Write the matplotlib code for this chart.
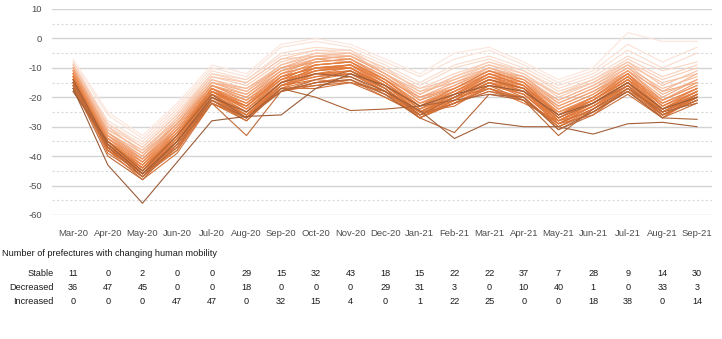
import matplotlib
matplotlib.use("Agg")
import matplotlib.pyplot as plt
from matplotlib.colors import LinearSegmentedColormap
from matplotlib.transforms import blended_transform_factory

plt.rcParams['font.family'] = ['Liberation Sans', 'DejaVu Sans']
plt.rcParams['axes.unicode_minus'] = False

months = ['Mar-20', 'Apr-20', 'May-20', 'Jun-20', 'Jul-20', 'Aug-20', 'Sep-20',
          'Oct-20', 'Nov-20', 'Dec-20', 'Jan-21', 'Feb-21', 'Mar-21', 'Apr-21',
          'May-21', 'Jun-21', 'Jul-21', 'Aug-21', 'Sep-21']

# mobility change (%) per prefecture, ordered from smallest drop to largest
prefectures = [
    [-7, -25, -33, -22, -9, -12, -2, 0, -2, -7, -12, -5, -3, -8, -14, -10, 2, -1, -1],
    [-8, -26, -34, -23, -10, -13, -3, -1, -3, -8, -13, -7, -4, -9, -15, -11, -2, -8, -3],
    [-9, -28, -35, -24, -11, -14, -5, -3, -4, -9, -15, -9, -6, -10, -16, -12, -4, -10, -5],
    [-8, -29, -36, -25, -12, -14, -6, -4, -5, -10, -16, -10, -7, -11, -17, -13, -6, -11, -8],
    [-9, -29, -37, -26, -12, -15, -7, -4, -4, -11, -17, -12, -8, -11, -18, -14, -7, -13, -9],
    [-10, -30, -37, -26, -13, -16, -8, -5, -5, -10, -18, -13, -8, -12, -19, -14, -8, -14, -10],
    [-10, -31, -38, -27, -13, -15, -7, -6, -6, -11, -17, -14, -9, -12, -20, -15, -9, -15, -12],
    [-9, -30, -39, -27, -14, -17, -9, -5, -6, -12, -19, -13, -9, -13, -19, -15, -8, -16, -11],
    [-11, -31, -38, -28, -14, -18, -9, -6, -5, -12, -18, -15, -10, -13, -21, -16, -10, -17, -13],
    [-10, -32, -40, -28, -15, -17, -10, -7, -6, -12, -19, -14, -10, -14, -21, -16, -9, -18, -12],
    [-11, -32, -39, -29, -15, -18, -10, -6, -7, -13, -20, -16, -10, -14, -22, -17, -10, -19, -14],
    [-12, -33, -40, -29, -15, -19, -11, -7, -6, -12, -20, -15, -11, -13, -22, -17, -11, -18, -15],
    [-10, -32, -41, -30, -16, -19, -10, -8, -7, -13, -21, -16, -11, -14, -23, -18, -11, -20, -14],
    [-11, -33, -41, -29, -16, -20, -12, -7, -8, -14, -20, -17, -12, -15, -23, -18, -12, -21, -16],
    [-12, -33, -42, -30, -16, -20, -11, -8, -7, -13, -21, -17, -11, -15, -24, -19, -11, -21, -15],
    [-11, -34, -41, -31, -17, -21, -12, -9, -8, -14, -22, -18, -12, -14, -24, -19, -12, -22, -17],
    [-12, -34, -42, -31, -16, -21, -13, -8, -7, -14, -22, -17, -12, -16, -25, -20, -13, -21, -16],
    [-13, -34, -43, -31, -17, -22, -12, -9, -8, -15, -23, -18, -13, -15, -25, -20, -12, -22, -17],
    [-12, -35, -42, -32, -17, -22, -13, -10, -9, -14, -22, -19, -12, -16, -26, -20, -13, -23, -18],
    [-13, -35, -43, -32, -18, -22, -14, -9, -8, -15, -23, -18, -13, -17, -25, -21, -14, -22, -17],
    [-12, -35, -44, -32, -17, -23, -13, -10, -9, -16, -23, -19, -14, -16, -26, -21, -13, -23, -18],
    [-14, -36, -43, -33, -18, -23, -14, -11, -9, -15, -24, -19, -13, -17, -27, -21, -14, -24, -19],
    [-13, -36, -44, -33, -18, -24, -15, -10, -10, -16, -24, -20, -14, -17, -27, -22, -15, -24, -18],
    [-14, -36, -45, -33, -19, -23, -14, -11, -9, -16, -25, -19, -14, -18, -27, -22, -14, -25, -19],
    [-13, -37, -44, -34, -18, -24, -15, -12, -10, -17, -25, -20, -15, -17, -28, -22, -15, -24, -20],
    [-15, -37, -45, -34, -19, -25, -16, -11, -10, -16, -25, -21, -15, -18, -28, -23, -16, -25, -19],
    [-14, -36, -45, -35, -19, -25, -15, -12, -11, -17, -26, -20, -15, -19, -28, -23, -15, -26, -20],
    [-15, -37, -46, -34, -20, -26, -16, -13, -11, -18, -26, -21, -16, -18, -29, -24, -16, -25, -20],
    [-16, -38, -45, -35, -19, -26, -17, -12, -12, -17, -27, -22, -16, -19, -29, -23, -17, -26, -21],
    [-15, -38, -46, -36, -20, -27, -17, -14, -12, -18, -26, -22, -17, -20, -30, -24, -16, -27, -20],
    [-14, -35, -44, -33, -17, -24, -14, -9, -8, -14, -23, -17, -11, -15, -26, -20, -12, -23, -17],
    [-13, -36, -45, -34, -18, -25, -15, -10, -9, -15, -24, -18, -12, -16, -27, -21, -13, -24, -18],
    [-15, -35, -44, -33, -18, -23, -13, -10, -10, -16, -25, -19, -13, -16, -26, -21, -14, -24, -18],
    [-14, -37, -45, -35, -19, -26, -15, -11, -10, -17, -26, -20, -14, -17, -28, -22, -15, -25, -19],
    [-16, -37, -46, -35, -20, -26, -16, -12, -11, -16, -25, -20, -14, -18, -28, -22, -15, -25, -20],
    [-15, -38, -46, -36, -21, -27, -16, -13, -12, -18, -27, -21, -15, -19, -29, -23, -16, -26, -20],
    [-16, -37, -47, -37, -21, -26, -18, -15, -13, -19, -25, -20, -17, -22, -28, -25, -17, -26, -21],
    [-17, -36, -46, -38, -20, -27, -16, -14, -15, -18, -27, -21, -15, -20, -30, -25, -18, -24, -19],
    [-15, -39, -47, -37, -22, -27, -18, -16, -14, -20, -26, -22, -18, -21, -29, -26, -17, -25, -20],
    [-16, -38, -48, -39, -22, -28, -17, -17, -15, -18, -25, -23, -16, -21, -29, -24, -18, -27, -19],
    [-17, -37, -47, -38, -22, -27, -18, -15, -14, -19, -27, -22, -17, -21, -30, -25, -18, -26, -21],
    [-18, -36, -46, -37, -21, -28, -17, -16, -15, -20, -26, -22, -18, -20, -31, -26, -19, -27, -22],
    [-16, -40, -48, -36, -22, -33, -18, -14, -11, -17, -26, -20, -14, -17, -27, -22, -16, -26, -21],
    [-15, -37, -47, -35, -21, -27, -18, -15, -14, -19, -27, -32, -19, -21, -33, -24, -17, -25, -22],
    [-18, -35, -45, -33, -19, -27, -17, -20, -24.5, -24, -23, -21, -19, -20, -31, -25, -18, -27, -27.5],
    [-14, -36, -46, -35, -20, -25, -15, -12, -13, -18, -24.5, -34, -28.5, -30, -30, -32.5, -29, -28.5, -30],
    [-17, -43, -56, -42, -28, -26.5, -26, -17, -12, -16, -23, -19, -16, -18, -26, -22, -15, -24, -20],
]

row_labels = ['Stable', 'Decreased', 'Increased']
stable = [11, 0, 2, 0, 0, 29, 15, 32, 43, 18, 15, 22, 22, 37, 7, 28, 9, 14, 30]
decreased = [36, 47, 45, 0, 0, 18, 0, 0, 0, 29, 31, 3, 0, 10, 40, 1, 0, 33, 3]
increased = [0, 0, 0, 47, 47, 0, 32, 15, 4, 0, 1, 22, 25, 0, 0, 18, 38, 0, 14]

cmap = LinearSegmentedColormap.from_list(
    'mob', [(0.0, '#fce6dc'), (0.15, '#f6c2a4'), (0.3, '#ef9c6c'),
            (0.45, '#e8854a'), (0.75, '#e0783a'), (0.88, '#cf7038'),
            (1.0, '#9a5b37')])

fig = plt.figure(figsize=(7.22, 3.39), dpi=100)
ax = fig.add_axes([52 / 722, 1 - 215 / 339, 660 / 722, 206 / 339])

x = list(range(len(months)))
n = len(prefectures)
for i, vals in enumerate(prefectures):
    ax.plot(x, vals, color=cmap(i / (n - 1)), lw=0.8, zorder=2)

ax.set_xlim(-0.61, 18.43)
ax.set_ylim(-60, 10)
ax.set_yticks(range(-60, 11, 10))
for y in range(-60, 11, 10):
    ax.axhline(y, color='#d4d4d4', lw=1.0, zorder=1)
for y in range(-55, 10, 10):
    ax.axhline(y, color='#d9d9d9', lw=0.8, ls=(0, (2, 2)), zorder=1)

ax.set_xticks(x)
ax.set_xticklabels(months)
ax.tick_params(axis='both', length=0, labelsize=6.8, colors='#4d4d4d')
ax.tick_params(axis='x', pad=10)
ax.tick_params(axis='y', pad=7)
for s in ax.spines.values():
    s.set_visible(False)

# counts table under the chart
trans = blended_transform_factory(ax.transData, fig.transFigure)
fig.text(0.003, 1 - 253 / 339, 'Number of prefectures with changing human mobility',
         fontsize=6.6, color='#1a1a1a', va='center', ha='left')
rows_y = [1 - 273 / 339, 1 - 287 / 339, 1 - 301 / 339]
for lab, counts, ry in zip(row_labels, [stable, decreased, increased], rows_y):
    fig.text(54 / 722, ry, lab, fontsize=6.6, color='#1a1a1a', ha='right', va='center')
    for xi, c in zip(x, counts):
        ax.text(xi, ry, str(c), transform=trans, fontsize=6.6, color='#1a1a1a',
                ha='center', va='center', clip_on=False)

fig.savefig('out.png', dpi=100)
